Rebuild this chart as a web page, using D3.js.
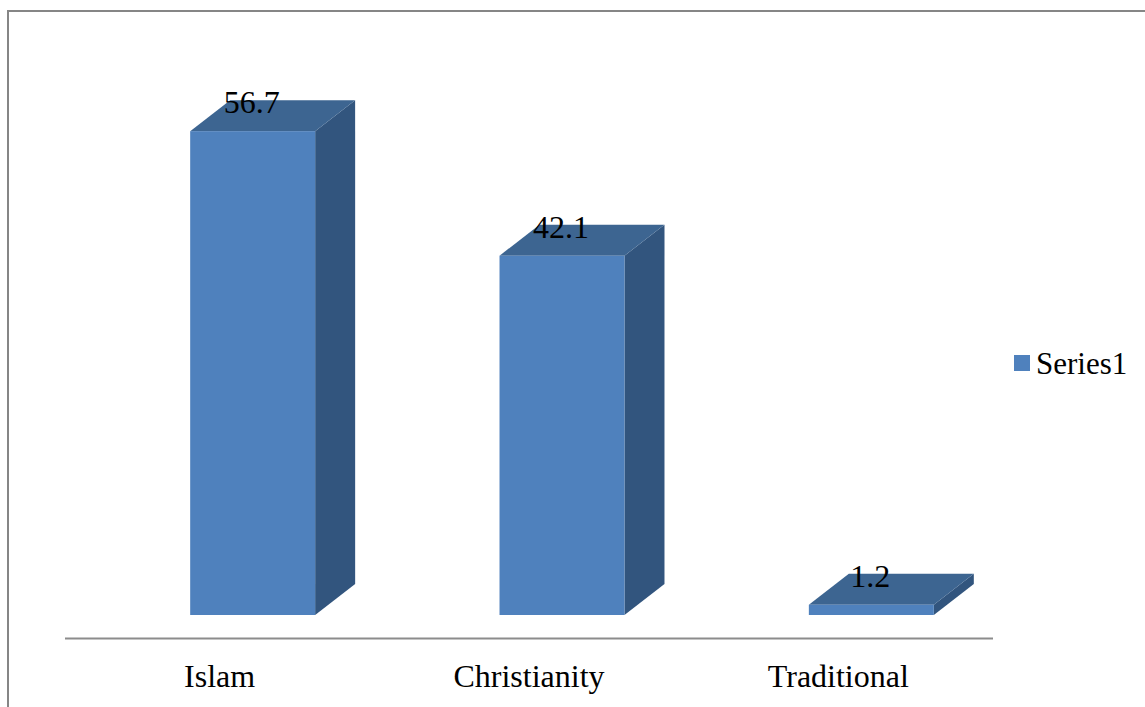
<!DOCTYPE html>
<html>
<head>
<meta charset="utf-8">
<script src="https://cdn.jsdelivr.net/npm/d3@7"></script>
<style>
  html, body { margin: 0; padding: 0; background: #fff; }
  svg { display: block; }
  svg text { font-family: "Liberation Serif", "Times New Roman", Times, serif; }
</style>
</head>
<body>
<svg id="chart" width="1145" height="707"></svg>
<script>
const categories = ["Islam", "Christianity", "Traditional"];
const values = [56.7, 42.1, 1.2];
const seriesName = "Series1";

const svg = d3.select("#chart");

// outer border
svg.append("rect").attr("x", 8).attr("y", 11).attr("width", 1145).attr("height", 720)
  .attr("fill", "#fff").attr("stroke", "#868686").attr("stroke-width", 2);

const x = d3.scaleBand().domain(categories).range([65, 993]).paddingInner(0).paddingOuter(0);
const y = d3.scaleLinear().domain([0, 60]).range([615, 103]);

const depthX = 40, depthY = 31;
const barW = x.bandwidth() * 0.404;
const shift = 33;

const colFront = "#4F81BD", colTop = "#3D6591", colSide = "#32557E";

// axis line
svg.append("line").attr("x1", 65).attr("x2", 993).attr("y1", 638.5).attr("y2", 638.5)
  .attr("stroke", "#8c8c8c").attr("stroke-width", 2);

const g = svg.append("g");
const bars = g.selectAll("g.bar").data(categories.map((c, i) => ({c, v: values[i]}))).enter()
  .append("g").attr("class", "bar");

bars.each(function(d) {
  const sel = d3.select(this);
  const x0 = x(d.c) + x.bandwidth() / 2 - barW / 2 + shift;
  const x1 = x0 + barW;
  const yTop = y(d.v), yBot = y(0);
  sel.append("path").attr("d", `M${x1},${yTop}L${x1 + depthX},${yTop - depthY}L${x1 + depthX},${yBot - depthY}L${x1},${yBot}Z`)
    .attr("fill", colSide);
  sel.append("path").attr("d", `M${x0},${yTop}L${x0 + depthX},${yTop - depthY}L${x1 + depthX},${yTop - depthY}L${x1},${yTop}Z`)
    .attr("fill", colTop);
  sel.append("rect").attr("x", x0).attr("y", yTop).attr("width", barW).attr("height", yBot - yTop)
    .attr("fill", colFront);
  sel.append("text").attr("x", (x0 + x1) / 2 - 1).attr("y", yTop - depthY + 13)
    .attr("text-anchor", "middle").attr("font-size", 32)
    .attr("fill", "#000").text(d.v);
});

svg.selectAll("text.cat").data(categories).enter().append("text").attr("class", "cat")
  .attr("x", d => x(d) + x.bandwidth() / 2).attr("y", 687)
  .attr("text-anchor", "middle").attr("font-size", 32)
  .attr("fill", "#000").text(d => d);

svg.append("rect").attr("x", 1014).attr("y", 355).attr("width", 16).attr("height", 16).attr("fill", colFront);
svg.append("text").attr("x", 1036).attr("y", 374).attr("font-size", 31)
  .attr("fill", "#000").text(seriesName);
</script>
</body>
</html>
